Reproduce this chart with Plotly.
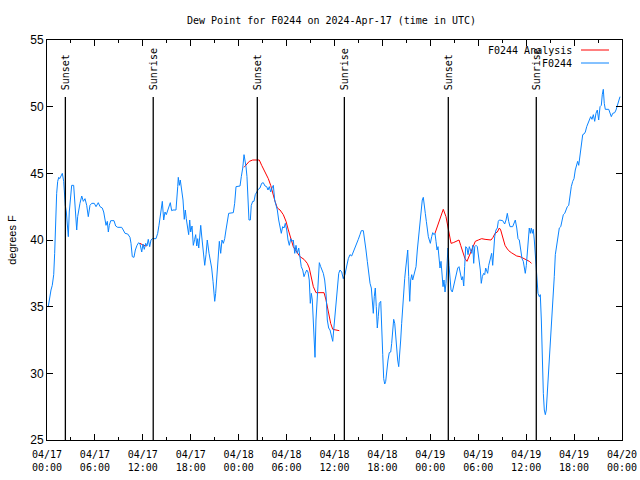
import pandas as pd
import plotly.graph_objects as go

# ---------------- data ----------------
BASE = "2024-04-17 00:00"

# F0244 observed dew point: hours since 04/17 00:00 UTC, degrees F
obs_hours = [
    0.16, 0.34, 0.50, 0.66, 0.84, 0.96, 1.09, 1.21, 1.34, 1.47, 1.59, 1.75, 1.92, 2.09, 2.17, 2.29,
    2.42, 2.54, 2.67, 2.79, 2.92, 3.09, 3.34, 3.47, 3.59, 3.72, 3.84, 3.97, 4.13, 4.35, 4.55, 4.76,
    4.97, 5.17, 5.38, 5.60, 5.92, 6.14, 6.42, 6.64, 6.92, 7.10, 7.26, 7.39, 7.55, 7.68, 7.80, 7.98,
    8.39, 8.60, 8.85, 9.35, 9.55, 9.77, 10.11, 10.39, 10.52, 10.68, 10.89, 11.06, 11.27, 11.48, 11.65,
    11.86, 12.02, 12.18, 12.36, 12.52, 12.68, 12.86, 13.02, 13.19, 13.65, 13.86, 14.02, 14.15, 14.27,
    14.44, 14.61, 14.78, 14.94, 15.11, 15.28, 15.44, 15.61, 15.78, 16.15, 16.28, 16.37, 16.44, 16.57,
    16.69, 16.87, 17.03, 17.19, 17.32, 17.44, 17.62, 17.74, 17.87, 17.99, 18.16, 18.32, 18.49, 18.62,
    18.75, 18.87, 19.00, 19.12, 19.25, 19.37, 19.57, 19.75, 19.91, 20.07, 20.29, 20.45, 20.62, 20.79,
    20.91, 21.00, 21.12, 21.25, 21.41, 21.58, 21.75, 21.91, 22.08, 22.25, 22.41, 22.58, 22.75, 23.33,
    23.50, 23.67, 24.17, 24.33, 24.51, 24.67, 24.79, 24.92, 25.04, 25.17, 25.29, 25.46, 25.58, 25.76,
    25.92, 26.08, 26.26, 26.46, 26.67, 26.88, 27.08, 27.30, 27.51, 27.67, 27.84, 28.01, 28.17, 28.34,
    28.51, 28.68, 28.84, 29.01, 29.18, 29.34, 29.51, 29.68, 29.84, 30.02, 30.18, 30.34, 30.52, 30.68,
    30.84, 31.02, 31.18, 31.34, 31.52, 31.68, 31.84, 32.02, 32.18, 32.34, 32.52, 32.68, 32.84, 32.97,
    33.10, 33.22, 33.35, 33.47, 33.56, 33.68, 33.81, 33.93, 34.10, 34.27, 34.44, 34.60, 34.77, 34.94,
    35.10, 35.27, 35.44, 35.60, 35.78, 35.90, 36.03, 36.15, 36.28, 36.40, 36.53, 36.69, 36.90, 37.10,
    37.31, 37.53, 37.73, 37.94, 38.15, 38.35, 38.57, 38.78, 38.98, 39.19, 39.36, 39.61, 39.78, 39.94,
    40.11, 40.28, 40.45, 40.61, 40.73, 40.86, 40.98, 41.11, 41.23, 41.36, 41.48, 41.61, 41.79, 41.91,
    42.04, 42.16, 42.29, 42.41, 42.54, 42.70, 42.86, 43.04, 43.16, 43.29, 43.41, 43.54, 43.66, 43.79,
    43.91, 44.04, 44.16, 44.29, 44.41, 44.54, 44.67, 44.79, 44.92, 45.04, 45.17, 45.29, 45.42, 45.54,
    45.67, 45.79, 45.92, 46.04, 46.21, 46.37, 46.54, 46.71, 46.87, 46.99, 47.12, 47.24, 47.37, 47.50,
    47.62, 47.75, 47.87, 48.00, 48.17, 48.30, 48.46, 48.58, 48.71, 48.84, 48.96, 49.09, 49.21, 49.34,
    49.46, 49.59, 49.71, 49.84, 49.96, 50.09, 50.21, 50.34, 50.46, 50.59, 50.75, 50.93, 51.09, 51.25,
    51.43, 51.59, 51.75, 51.93, 52.05, 52.18, 52.30, 52.43, 52.59, 52.72, 52.88, 53.06, 53.18, 53.31,
    53.43, 53.56, 53.72, 53.88, 54.01, 54.13, 54.26, 54.38, 54.51, 54.68, 54.81, 54.93, 55.06, 55.18,
    55.31, 55.43, 55.56, 55.68, 55.81, 55.93, 56.06, 56.22, 56.39, 56.51, 56.64, 57.06, 57.31, 57.48,
    57.64, 57.81, 57.98, 58.31, 58.48, 58.64, 58.82, 58.98, 59.14, 59.32, 59.48, 59.64, 59.77, 59.89,
    60.02, 60.14, 60.27, 60.39, 60.52, 60.64, 60.77, 60.89, 61.02, 61.14, 61.27, 61.36, 61.48, 61.65,
    61.77, 61.90, 62.02, 62.15, 62.27, 62.40, 62.52, 62.65, 62.77, 62.90, 63.02, 63.15, 63.27, 63.40,
    63.52, 63.65, 63.82, 63.99, 64.15, 64.33, 64.49, 64.65, 64.83, 64.99, 65.15, 65.33, 65.49, 65.65,
    65.83, 65.99, 66.15, 66.33, 66.45, 66.58, 66.70, 66.83, 66.95, 67.08, 67.24, 67.41, 67.58, 67.74,
    67.91, 68.08, 68.24, 68.41, 68.58, 68.74, 68.91, 69.08, 69.25, 69.41, 69.53, 69.66, 69.78, 69.91,
    70.34, 70.50, 70.66, 70.84, 71.09, 71.25, 71.41, 71.59, 71.75,
]
obs_dewpt = [
    35.0, 35.9, 36.25, 36.6, 37.4, 39.0, 41.75, 43.5, 44.4, 44.7, 44.6, 44.8, 45.0, 44.4, 43.25, 42.6,
    42.1, 40.9, 40.25, 42.1, 43.15, 44.1, 44.1, 43.15, 41.65, 40.75, 41.75, 42.4, 42.75, 43.3, 42.9, 43.1,
    42.6, 41.75, 42.6, 42.75, 42.75, 42.5, 42.8, 42.5, 42.4, 42.1, 41.4, 41.1, 41.4, 40.6, 41.1, 41.45,
    41.45, 41.05, 40.95, 40.95, 40.75, 40.5, 40.45, 40.2, 39.75, 38.75, 38.7, 39.25, 39.6, 39.8, 39.7,
    39.1, 39.7, 39.3, 39.75, 39.55, 40.05, 39.5, 40.0, 40.1, 40.1, 40.5, 41.1, 41.75, 42.5,
    42.9, 41.5, 42.1, 41.9, 42.25, 42.5, 42.8, 42.2, 42.25, 42.25, 43.0, 44.0, 44.7, 44.1,
    44.5, 43.75, 43.0, 41.55, 42.25, 41.6, 40.95, 40.4, 41.5, 40.6, 41.05, 39.6, 40.05, 40.4,
    39.55, 40.1, 39.4, 40.6, 41.1, 40.3, 39.25, 38.1, 38.9, 40.0, 39.0, 38.5, 37.9, 36.9,
    36.0, 35.4, 36.0, 37.25, 38.5, 39.9, 39.0, 40.0, 39.75, 40.1, 40.75, 41.5, 42.0, 42.05,
    42.75, 44.0, 44.05, 44.75, 45.4, 46.4, 46.0, 45.5, 44.75, 43.0, 41.5, 41.5, 42.6, 42.9,
    42.9, 43.4, 43.6, 43.8, 43.9, 44.25, 44.3, 44.05, 44.0, 43.75, 44.0, 43.6, 43.9, 44.1,
    43.0, 42.6, 42.25, 41.5, 40.9, 40.5, 41.0, 40.9, 41.25, 40.75, 40.0, 39.6, 40.1, 39.9,
    40.0, 39.0, 39.6, 39.0, 39.4, 38.5, 38.0, 37.75, 37.25, 37.5, 37.75, 37.6, 37.0, 35.25,
    36.0, 35.5, 34.0, 32.25, 31.2, 34.0, 35.5, 37.0, 38.3, 38.0, 37.75, 37.5, 37.0, 36.0,
    34.0, 33.4, 33.25, 32.75, 32.4, 33.25, 34.25, 35.25, 36.1, 37.0, 37.5, 37.75, 37.6, 37.1,
    37.4, 38.05, 38.6, 38.9, 38.8, 39.1, 39.4, 39.75, 40.05, 40.4, 40.7, 40.7, 40.1, 39.25,
    38.4, 37.5, 36.75, 36.4, 35.0, 34.5, 35.75, 36.4, 35.0, 33.4, 34.25, 35.25, 35.4, 34.0,
    31.4, 29.6, 29.2, 29.4, 30.25, 31.0, 31.55, 31.6, 32.25, 33.6, 34.05, 33.75, 32.75, 32.25,
    31.0, 30.5, 31.25, 32.5, 33.75, 35.25, 36.4, 37.1, 37.9, 38.75, 39.25, 37.25, 35.4, 37.0,
    37.4, 37.0, 37.4, 37.5, 38.0, 39.25, 40.4, 41.5, 42.4, 43.0, 43.2, 42.75, 42.0, 41.4,
    40.75, 40.25, 40.0, 39.75, 40.25, 40.55, 40.4, 40.5, 39.9, 39.25, 39.5, 38.5, 37.9, 38.4,
    37.25, 36.5, 37.0, 36.1, 36.75, 38.5, 39.4, 38.1, 37.0, 36.25, 36.1, 36.6, 37.0, 37.4,
    37.9, 38.0, 37.5, 37.0, 37.25, 36.55, 38.0, 39.5, 39.4, 38.9, 39.5, 39.1, 39.0, 39.6,
    38.25, 39.5, 39.6, 39.5, 38.9, 38.25, 37.75, 36.75, 37.25, 37.5, 37.4, 37.9, 37.75, 37.5,
    38.1, 38.4, 38.8, 39.0, 38.1, 39.1, 40.25, 40.75, 40.9, 41.4, 41.5, 41.45, 41.2, 41.5,
    42.0, 41.4, 41.0, 41.0, 41.25, 41.5, 40.9, 40.1, 40.0, 39.25, 38.6, 38.4, 37.75, 37.5,
    38.1, 39.0, 40.1, 40.9, 40.5, 40.9, 40.5, 40.8, 40.0, 38.9, 37.5, 36.5, 36.0, 35.75,
    35.9, 34.0, 30.25, 28.5, 27.25, 26.9, 27.25, 28.5, 30.25, 31.4, 32.25, 33.1, 34.75, 36.0,
    37.25, 38.9, 39.6, 40.4, 40.9, 41.0, 41.5, 41.9, 42.0, 42.25, 42.5, 42.6, 43.4, 44.0,
    44.4, 44.6, 45.25, 45.6, 45.9, 45.6, 46.1, 46.6, 47.4, 47.9, 47.95, 48.1, 48.5, 48.75,
    48.9, 49.25, 49.05, 49.4, 48.9, 49.5, 49.75, 49.0, 50.0, 50.1, 50.9, 51.3, 50.25, 49.8,
    49.8, 49.5, 49.25, 49.5, 49.55, 49.75, 50.1, 50.5, 50.75,
]

# F0244 Analysis (None = gap in the analysis record)
ana_hours = [
    11.65, 12.08, 12.48, None,
    24.67, 25.08, 25.33, 25.76, 26.58, 26.88, 27.30, 27.71, 28.01, 28.26, 28.55, 28.84, 29.18, 29.59,
    29.93, 30.22, 30.52, 30.84, 31.27, 31.68, 32.18, 32.59, 32.84, 33.06, 33.35, 33.68, 34.69, 34.94,
    35.22, 35.52, 35.78, 36.06, 36.60, None,
    48.58, 49.00, 49.42, 49.62, 49.96, 50.25, 50.59, 50.88, 51.21, 51.59, 51.80, 52.05, 52.34, 52.59,
    52.97, 53.31, 53.63, 54.01, 54.43, 54.85, 55.26, 55.60, 55.85, 56.10, 56.39, 56.64, 56.81, 56.97,
    57.14, 57.35, 57.56, 57.81, 58.14, 58.48, 58.82, 59.23, 59.64, 60.07, 60.39, 60.67,
]
ana_dewpt = [
    39.75, 39.6, 39.55, None,
    45.45, 45.7, 45.9, 46.0, 46.0, 45.6, 45.1, 44.6, 44.1, 43.5, 42.9, 42.4, 42.25, 41.9,
    41.4, 40.75, 40.1, 39.5, 39.1, 38.75, 38.55, 38.25, 37.9, 37.25, 36.5, 36.05, 36.05, 35.5,
    34.6, 33.75, 33.3, 33.25, 33.2, None,
    40.5, 41.25, 42.0, 42.3, 41.75, 40.75, 39.75, 39.8, 39.9, 40.0, 39.6, 39.1, 38.6, 38.4,
    39.0, 39.5, 39.9, 40.0, 40.1, 40.05, 40.0, 40.0, 40.2, 40.5, 40.6, 40.9, 40.75, 40.4,
    40.0, 39.6, 39.4, 39.2, 39.05, 38.95, 38.8, 38.75, 38.6, 38.5, 38.4, 38.25,
]

sun_labels = ["Sunset", "Sunrise", "Sunset", "Sunrise", "Sunset", "Sunrise"]
sun_times = ["2024-04-17 02:18", "2024-04-17 13:18", "2024-04-18 02:20",
             "2024-04-18 13:14", "2024-04-19 02:15", "2024-04-19 13:16"]

tick_times = pd.date_range("2024-04-17 00:00", "2024-04-20 00:00", freq="6h")
tick_labels = ["04/17<br>00:00", "04/17<br>06:00", "04/17<br>12:00", "04/17<br>18:00",
               "04/18<br>00:00", "04/18<br>06:00", "04/18<br>12:00", "04/18<br>18:00",
               "04/19<br>00:00", "04/19<br>06:00", "04/19<br>12:00", "04/19<br>18:00",
               "04/20<br>00:00"]

series_names = ["F0244 Analysis", "F0244"]
series_colors = ["#ff0000", "#0a84ff"]

# ---------------- figure ----------------
base = pd.Timestamp(BASE)
def to_time(hours):
    return [None if h is None else base + pd.Timedelta(hours=h) for h in hours]

MONO = "DejaVu Sans Mono"
SANS = "Liberation Sans"

fig = go.Figure()
fig.add_trace(go.Scatter(x=to_time(ana_hours), y=ana_dewpt, mode="lines",
                         name=series_names[0], line=dict(color=series_colors[0], width=1),
                         connectgaps=False, showlegend=False))
fig.add_trace(go.Scatter(x=to_time(obs_hours), y=obs_dewpt, mode="lines",
                         name=series_names[1], line=dict(color=series_colors[1], width=1),
                         showlegend=False))

# sunrise / sunset markers
for lab, t in zip(sun_labels, sun_times):
    fig.add_shape(type="line", xref="x", yref="paper", x0=t, x1=t, y0=0, y1=0.8575,
                  line=dict(color="black", width=1.3))
    fig.add_annotation(x=t, xref="x", y=0.87, yref="paper", text=lab, textangle=-90,
                       showarrow=False, xanchor="center", yanchor="bottom",
                       font=dict(family=MONO, size=10, color="black"))

# legend (gnuplot style: text right-aligned, sample line on the right)
for i, (nm, col) in enumerate(zip(series_names, series_colors)):
    yy = 0.975 - i * 0.0325
    fig.add_annotation(x=0.9165, y=yy, xref="paper", yref="paper", text=nm, showarrow=False,
                       xanchor="right", yanchor="middle",
                       font=dict(family=MONO, size=10, color="black"))
    fig.add_shape(type="line", xref="paper", yref="paper", x0=0.9287, x1=0.9774, y0=yy, y1=yy,
                  line=dict(color=col, width=1))

fig.update_layout(
    width=640, height=480,
    margin=dict(l=47, r=18, t=40, b=40),
    paper_bgcolor="white", plot_bgcolor="white",
    title=dict(text="Dew Point for F0244 on 2024-Apr-17 (time in UTC)", x=0.518, xanchor="center",
               y=0.958, yanchor="middle", yref="container",
               font=dict(family=MONO, size=10, color="black")),
    showlegend=False,
)
fig.update_xaxes(
    type="date", range=[tick_times[0], tick_times[-1]], automargin=False,
    tickvals=list(tick_times), ticktext=tick_labels,
    ticks="inside", ticklen=6, tickcolor="black", tickwidth=1,
    minor=dict(ticks="inside", ticklen=3, dtick=3 * 3600 * 1000, tickcolor="black"),
    showline=True, linecolor="black", linewidth=1, mirror="allticks",
    showgrid=False, zeroline=False, ticklabelstandoff=5,
    tickfont=dict(family=MONO, size=10, color="black"),
)
fig.update_yaxes(
    range=[25, 55], dtick=5, tick0=25, automargin=False,
    ticks="inside", ticklen=6, tickcolor="black", tickwidth=1,
    showline=True, linecolor="black", linewidth=1, mirror="allticks",
    showgrid=False, zeroline=False,
    tickfont=dict(family=SANS, size=12, color="black"),
    title=dict(text="degrees F", font=dict(family=SANS, size=11, color="black"), standoff=11),
)

fig.write_html("out.html", config={"displayModeBar": False},
               post_script="document.body.style.margin='0';document.body.style.overflow='hidden';")
